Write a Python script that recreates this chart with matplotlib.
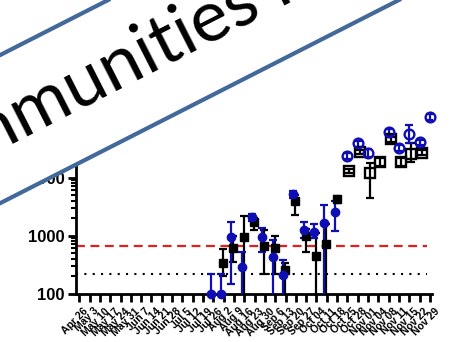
import numpy as np
import matplotlib
matplotlib.use("Agg")
import matplotlib.pyplot as plt
from matplotlib.ticker import FixedLocator, FuncFormatter, LogLocator, NullFormatter
from matplotlib.transforms import ScaledTranslation

# sampling dates shown on the x axis
dates = ["Apr 26", "May 3", "May 10", "May 17", "May 24", "May 31", "Jun 7",
         "Jun 14", "Jun 21", "Jun 28", "Jul 5", "Jul 12", "Jul 19", "Jul 26",
         "Aug 2", "Aug 9", "Aug 16", "Aug 23", "Aug 30", "Sep 6", "Sep 13",
         "Sep 20", "Sep 27", "Oct 04", "Oct 11", "Oct 18", "Oct 25", "Oct 28",
         "Nov 01", "Nov 04", "Nov 08", "Nov 11", "Nov 15", "Nov 22", "Nov 29"]

# black squares: date, mean, lower, upper (lower 1 = bar runs off the axis)
black_dates = ["Aug 2", "Aug 9", "Aug 16", "Aug 23", "Aug 30", "Sep 6", "Sep 13",
               "Sep 20", "Sep 27", "Oct 04", "Oct 11", "Oct 18",
               "Oct 25", "Oct 28", "Nov 01", "Nov 04", "Nov 08", "Nov 11",
               "Nov 15", "Nov 22"]
black_val = [340, 600, 930, 1740, 660, 615, 255, 3980, 975, 442, 710, 4200,
             12900, 27600, 11800, 18700, 45700, 18700, 25500, 26700]
black_lo = [200, 350, 1, 1250, 214, 214, 1, 2250, 520, 1, 1, 3600,
            12000, 25000, 4450, 16000, 41000, 16000, 18700, 24000]
black_hi = [585, 1000, 2180, 2000, 1240, 1000, 340, 5000, 1300, 1100, 1600, 4800,
            14000, 30000, 18100, 22000, 50000, 22000, 39000, 29500]
black_open = [False] * 12 + [True] * 8

# blue circles
blue_dates = ["Jul 26", "Aug 2", "Aug 9", "Aug 16", "Aug 23", "Aug 30", "Sep 6",
              "Sep 13", "Sep 20", "Sep 27", "Oct 04", "Oct 11", "Oct 18",
              "Oct 25", "Oct 28", "Nov 01", "Nov 08", "Nov 11", "Nov 15",
              "Nov 22", "Nov 29"]
blue_val = [100, 100, 930, 283, 2050, 940, 425, 209, 5150, 1240, 1160, 1620, 2570,
            23400, 38700, 26700, 61600, 32600, 56000, 40500, 112000]
blue_lo = [100, 100, 146, 1, 1800, 525, 1, 1, 4500, 890, 890, 1, 1200,
           21000, 34000, 23000, 55000, 29000, 40000, 36000, 100000]
blue_hi = [214, 214, 1740, 525, 2350, 1330, 850, 380, 5900, 1690, 1560, 3380, 3980,
           26000, 43000, 31000, 69000, 37000, 80000, 45000, 125000]
blue_open = [False] * 13 + [True] * 8

red_level = 650
dotted_level = 213

BLUE = "#0e0eb4"
BANNER_EDGE = "#43699b"

fig = plt.figure(figsize=(4.5, 3.42), dpi=100)
W, H = 450, 342
ax = fig.add_axes([76 / W, 1 - 293.5 / H, (432 - 76) / W, (293.5 - 61.5) / H])
ax.set_yscale("log")
ax.set_ylim(100, 1e6)
ax.set_xlim(-0.32, 34.2)


def draw_series(names, val, lo, hi, is_open, color, marker, shift):
    idx = np.array([dates.index(d) for d in names], dtype=float)
    val = np.array(val, dtype=float)
    lo = np.array(lo, dtype=float)
    hi = np.array(hi, dtype=float)
    is_open = np.array(is_open)
    x = idx + shift + np.where(is_open, 0.25, 0.0)
    ax.errorbar(x, val, yerr=[val - lo, hi - val], fmt="none", ecolor=color,
                elinewidth=1.6, capsize=3, capthick=1.6, zorder=3)
    ax.plot(x[~is_open], val[~is_open], marker, ls="none", ms=6, color=color,
            zorder=4, clip_on=False)
    ax.plot(x[is_open], val[is_open], marker, ls="none", ms=7, mfc="none",
            mec=color, mew=1.7, zorder=4, clip_on=False)


draw_series(black_dates, black_val, black_lo, black_hi, black_open, "black", "s", -0.05)
draw_series(blue_dates, blue_val, blue_lo, blue_hi, blue_open, BLUE, "o", -0.25)

ax.hlines(red_level, -0.32, 33.7, colors="#e02020", linestyles=(0, (4, 2.5)), lw=1.6, zorder=2)
ax.hlines(dotted_level, -0.32, 33.7, colors="black", linestyles=(0, (1, 3)), lw=1.5, zorder=2)

for side in ("top", "right"):
    ax.spines[side].set_visible(False)
for side in ("left", "bottom"):
    ax.spines[side].set_linewidth(2)

ax.yaxis.set_major_locator(FixedLocator([100, 1000, 10000, 100000, 1000000]))
ax.yaxis.set_major_formatter(FuncFormatter(lambda v, p: f"{int(round(v))}"))
ax.yaxis.set_minor_locator(LogLocator(base=10, subs=np.arange(2, 10)))
ax.yaxis.set_minor_formatter(NullFormatter())
ax.tick_params(axis="y", which="major", length=6, width=2, pad=2)
ax.tick_params(axis="y", which="minor", length=3.5, width=1.5)
for t in ax.get_yticklabels():
    t.set_fontfamily("Liberation Sans")
    t.set_fontweight("bold")
    t.set_fontsize(12)

ax.set_xticks(range(len(dates)))
ax.set_xticklabels(dates, rotation=45, ha="right", va="top", rotation_mode="anchor",
                   fontsize=7.5, fontweight="bold", fontfamily="Liberation Sans")
ax.tick_params(axis="x", length=6, width=2, pad=3)
nudge = ScaledTranslation(4 / 100, 0, fig.dpi_scale_trans)
for t in ax.get_xticklabels():
    t.set_transform(t.get_transform() + nudge)

# diagonal banner laid over the chart, drawn in pixel coordinates
ov = fig.add_axes([0, 0, 1, 1])
ov.set_xlim(0, W)
ov.set_ylim(H, 0)
ov.axis("off")
ang = np.deg2rad(27)
u = np.array([np.cos(ang), -np.sin(ang)])
n = np.array([np.sin(ang), np.cos(ang)])
c = np.array([0, 129.2])
half = 66
t0, t1 = -300, 900
poly = np.array([c + t0 * u - half * n, c + t1 * u - half * n,
                 c + t1 * u + half * n, c + t0 * u + half * n])
ov.fill(poly[:, 0], poly[:, 1], color="white", zorder=1)
for s in (-1, 1):
    a = c + t0 * u + s * half * n
    b = c + t1 * u + s * half * n
    ov.plot([a[0], b[0]], [a[1], b[1]], color=BANNER_EDGE, lw=3, zorder=2,
            solid_capstyle="butt")
ov.text(-109, 206, "Communities h", rotation=27, rotation_mode="anchor",
        ha="left", va="baseline", fontsize=52, family="Lato", color="black", zorder=3)

fig.savefig("out.png", dpi=100)
